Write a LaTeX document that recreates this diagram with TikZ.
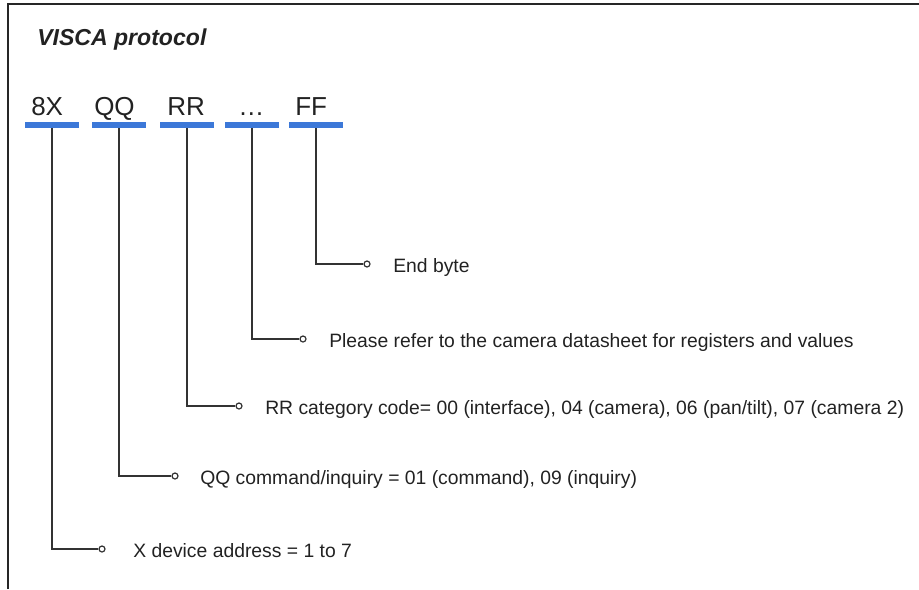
\documentclass[tikz,border=0pt]{standalone}
\usepackage{fontspec}
\setmainfont{Liberation Sans}
\definecolor{barblue}{HTML}{3C78D8}
\definecolor{linegray}{HTML}{333333}
\definecolor{textdark}{HTML}{222222}
\begin{document}
\begin{tikzpicture}[x=0.75pt,y=-0.75pt,
  bytebar/.style={fill=barblue,draw=none,inner sep=0pt,minimum width=40.5pt,minimum height=4.5pt},
  bytelabel/.style={anchor=base west,inner sep=0pt,font=\fontsize{19.5}{22}\selectfont,text=textdark},
  conn/.style={draw=linegray,line width=1.3pt},
  endpt/.style={circle,draw=linegray,line width=0.9pt,fill=white,inner sep=0pt,minimum size=4.5pt},
  desc/.style={anchor=base west,inner sep=0pt,font=\fontsize{14.5}{17}\selectfont,text=textdark}]
\useasboundingbox (0,0) rectangle (919,589);
\draw[line width=1.5pt,draw=black!85] (8,589) -- (8,4) -- (919,4);

\node[anchor=base west,inner sep=0pt,font=\fontsize{17.3}{20}\selectfont\bfseries\itshape,text=textdark] (title) at (37,45) {VISCA protocol};

% byte labels
\node[bytelabel] (l1) at (31,115) {8X};
\node[bytelabel] (l2) at (94,115) {QQ};
\node[bytelabel] (l3) at (167,115) {RR};
\node[bytelabel] (l4) at (238,115) {…};
\node[bytelabel] (l5) at (295,115) {FF};

% bars
\node[bytebar] (b1) at (52,125) {};
\node[bytebar] (b2) at (119,125) {};
\node[bytebar] (b3) at (187,125) {};
\node[bytebar] (b4) at (252,125) {};
\node[bytebar] (b5) at (316,125) {};

% end points
\node[endpt] (c5) at (367,264) {};
\node[endpt] (c4) at (303,339) {};
\node[endpt] (c3) at (239,406) {};
\node[endpt] (c2) at (175,476) {};
\node[endpt] (c1) at (102,549) {};

% connectors
\draw[conn] (b5.south) |- (c5.west);
\draw[conn] (b4.south) |- (c4.west);
\draw[conn] (b3.south) |- (c3.west);
\draw[conn] (b2.south) |- (c2.west);
\draw[conn] (b1.south) |- (c1.west);

% descriptions
\node[desc] (d5) at (393,272) {End byte};
\node[desc] (d4) at (329,347) {Please refer to the camera datasheet for registers and values};
\node[desc] (d3) at (265,414) {RR category code= 00 (interface), 04 (camera), 06 (pan/tilt), 07 (camera 2)};
\node[desc] (d2) at (200,484) {QQ command/inquiry = 01 (command), 09 (inquiry)};
\node[desc] (d1) at (133,557) {X device address = 1 to 7};
\end{tikzpicture}
\end{document}
